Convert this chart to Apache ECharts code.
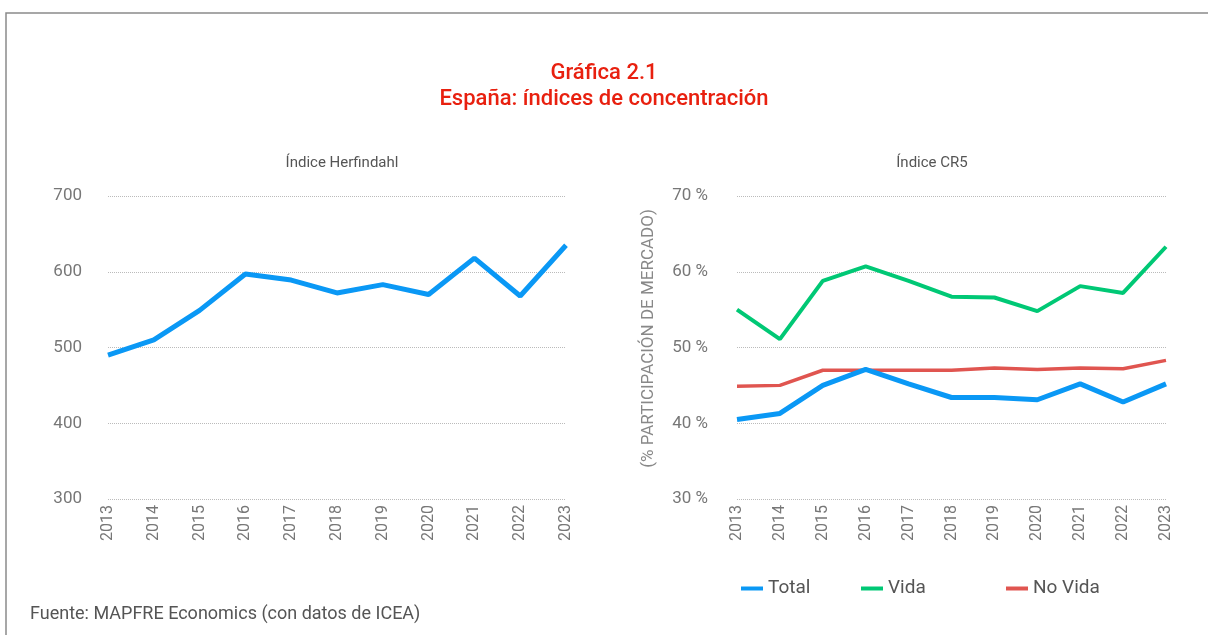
<!DOCTYPE html>
<html>
<head>
<meta charset="utf-8">
<script src="https://cdn.jsdelivr.net/npm/echarts@6/dist/echarts.min.js"></script>
<style>
  html, body { margin: 0; padding: 0; background: #fff; }
  #chart { width: 1208px; height: 635px; }
</style>
</head>
<body>
<div id="chart"></div>
<script>
// datos
const years = ["2013", "2014", "2015", "2016", "2017", "2018", "2019", "2020", "2021", "2022", "2023"];
const herfindahl = [490, 510, 549, 597, 589, 572, 583, 570, 618, 568, 635];
const cr5Total = [40.5, 41.3, 45.0, 47.1, 45.2, 43.4, 43.4, 43.1, 45.2, 42.8, 45.2];
const cr5Vida = [55.0, 51.1, 58.8, 60.7, 58.8, 56.7, 56.6, 54.8, 58.1, 57.2, 63.3];
const cr5NoVida = [44.9, 45.0, 47.0, 47.0, 47.0, 47.0, 47.3, 47.1, 47.3, 47.2, 48.3];

const fontFam = "Roboto, 'Noto Sans', sans-serif";
const grey = "#777";

const chart = echarts.init(document.getElementById("chart"));

function xAxisOf(idx) {
  return {
    type: "category",
    gridIndex: idx,
    data: years,
    boundaryGap: false,
    axisLine: { show: false },
    axisTick: { show: false },
    axisLabel: {
      rotate: 90,
      margin: 6,
      color: grey,
      fontSize: 16,
      fontFamily: fontFam,
    },
  };
}

function legendOf(name, left) {
  return {
    data: [name],
    left: left,
    top: 574,
    icon: "rect",
    itemWidth: 22,
    itemHeight: 4,
    itemGap: 12,
    textStyle: { color: "#555", fontSize: 19, fontFamily: fontFam },
  };
}

const option = {
  animation: false,
  textStyle: { fontFamily: fontFam },
  title: [
    {
      text: "Gráfica 2.1\nEspaña: índices de concentración",
      left: "center",
      top: 55,
      textStyle: {
        color: "#e8200f",
        fontSize: 22,
        fontWeight: 500,
        lineHeight: 26,
        fontFamily: fontFam,
      },
    },
    {
      text: "Índice Herfindahl",
      left: 337,
      textAlign: "center",
      top: 151,
      textStyle: { color: "#555", fontSize: 15, fontWeight: "normal", fontFamily: fontFam },
    },
    {
      text: "Índice CR5",
      left: 927,
      textAlign: "center",
      top: 151,
      textStyle: { color: "#555", fontSize: 15, fontWeight: "normal", fontFamily: fontFam },
    },
    {
      text: "Fuente: MAPFRE Economics (con datos de ICEA)",
      left: 25,
      top: 600,
      textStyle: { color: "#555", fontSize: 18, fontWeight: "normal", fontFamily: fontFam },
    },
  ],
  legend: [
    legendOf("Total", 736),
    legendOf("Vida", 856),
    legendOf("No Vida", 1001),
  ],
  grid: [
    { left: 108, right: 642, top: 196, bottom: 136 },
    { left: 737, right: 42, top: 196, bottom: 136 },
  ],
  xAxis: [xAxisOf(0), xAxisOf(1)],
  yAxis: [
    {
      type: "value",
      gridIndex: 0,
      min: 300,
      max: 700,
      interval: 100,
      axisLine: { show: false },
      axisTick: { show: false },
      axisLabel: { color: grey, fontSize: 17, margin: 26, fontFamily: fontFam },
      splitLine: { lineStyle: { color: "#bbb", type: "dotted" } },
    },
    {
      type: "value",
      gridIndex: 1,
      min: 30,
      max: 70,
      interval: 10,
      name: "(% PARTICIPACIÓN DE MERCADO)",
      nameLocation: "middle",
      nameRotate: 90,
      nameGap: 80,
      nameTextStyle: { color: "#888", fontSize: 17, fontFamily: fontFam, padding: [0, 0, 0, 18] },
      axisLine: { show: false },
      axisTick: { show: false },
      axisLabel: { color: grey, fontSize: 17, margin: 29, formatter: "{value} %", fontFamily: fontFam },
      splitLine: { lineStyle: { color: "#bbb", type: "dotted" } },
    },
  ],
  series: [
    {
      name: "Herfindahl",
      type: "line",
      xAxisIndex: 0,
      yAxisIndex: 0,
      data: herfindahl,
      showSymbol: false,
      lineStyle: { color: "#0a98f5", width: 5 },
      itemStyle: { color: "#0a98f5" },
    },
    {
      name: "No Vida",
      type: "line",
      xAxisIndex: 1,
      yAxisIndex: 1,
      data: cr5NoVida,
      showSymbol: false,
      lineStyle: { color: "#e05550", width: 3.5 },
      itemStyle: { color: "#e05550" },
    },
    {
      name: "Vida",
      type: "line",
      xAxisIndex: 1,
      yAxisIndex: 1,
      data: cr5Vida,
      showSymbol: false,
      lineStyle: { color: "#00c875", width: 4 },
      itemStyle: { color: "#00c875" },
    },
    {
      name: "Total",
      type: "line",
      xAxisIndex: 1,
      yAxisIndex: 1,
      data: cr5Total,
      showSymbol: false,
      lineStyle: { color: "#0a98f5", width: 5 },
      itemStyle: { color: "#0a98f5" },
    },
  ],
  graphic: [
    {
      type: "polyline",
      shape: { points: [[6, 635], [6, 13], [1208, 13]] },
      style: { stroke: "#8a8a8a", lineWidth: 1.5, fill: null },
    },
  ],
};

chart.setOption(option);
</script>
</body>
</html>
